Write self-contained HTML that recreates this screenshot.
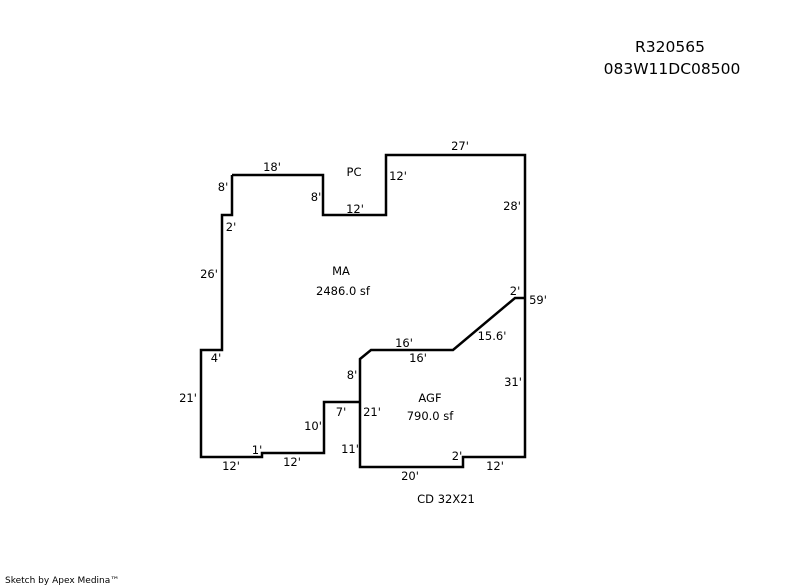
<!DOCTYPE html>
<html><head><style>
html,body{margin:0;padding:0;background:#fff;}
svg{display:block;}
text{font-family:"DejaVu Sans","Liberation Sans",sans-serif;font-size:11.5px;fill:#000;}
</style></head><body>
<svg width="800" height="587" viewBox="0 0 800 587" xmlns="http://www.w3.org/2000/svg">
<g fill="none" stroke="#000" stroke-width="2.5" stroke-linejoin="miter">
<polyline points="232,175 323,175 323,215 386,215 386,155 525,155 525,457 463,457 463,467 360,467 360,359 371,350 453,350 515,298 525,298"/>
<polyline points="232,175 232,215 222,215 222,350 201,350 201,457 262,457 262,453 324,453 324,402 360,402"/>
</g>
<text x="670" y="52" text-anchor="middle" style="font-size:15.5px">R320565</text>
<text x="672" y="74" text-anchor="middle" style="font-size:15.5px">083W11DC08500</text>
<text x="272" y="171" text-anchor="middle">18'</text>
<text x="354" y="176" text-anchor="middle">PC</text>
<text x="460" y="150" text-anchor="middle">27'</text>
<text x="223" y="191" text-anchor="middle">8'</text>
<text x="316" y="201" text-anchor="middle">8'</text>
<text x="398" y="180" text-anchor="middle">12'</text>
<text x="355" y="213" text-anchor="middle">12'</text>
<text x="512" y="210" text-anchor="middle">28'</text>
<text x="231" y="231" text-anchor="middle">2'</text>
<text x="209" y="278" text-anchor="middle">26'</text>
<text x="341" y="275" text-anchor="middle">MA</text>
<text x="343" y="295" text-anchor="middle">2486.0 sf</text>
<text x="515" y="295" text-anchor="middle">2'</text>
<text x="538" y="304" text-anchor="middle">59'</text>
<text x="492" y="340" text-anchor="middle">15.6'</text>
<text x="404" y="347" text-anchor="middle">16'</text>
<text x="418" y="362" text-anchor="middle">16'</text>
<text x="216" y="362" text-anchor="middle">4'</text>
<text x="352" y="379" text-anchor="middle">8'</text>
<text x="513" y="386" text-anchor="middle">31'</text>
<text x="188" y="402" text-anchor="middle">21'</text>
<text x="430" y="402" text-anchor="middle">AGF</text>
<text x="430" y="420" text-anchor="middle">790.0 sf</text>
<text x="341" y="416" text-anchor="middle">7'</text>
<text x="372" y="416" text-anchor="middle">21'</text>
<text x="313" y="430" text-anchor="middle">10'</text>
<text x="350" y="453" text-anchor="middle">11'</text>
<text x="257" y="454" text-anchor="middle">1'</text>
<text x="457" y="460" text-anchor="middle">2'</text>
<text x="231" y="470" text-anchor="middle">12'</text>
<text x="292" y="466" text-anchor="middle">12'</text>
<text x="410" y="480" text-anchor="middle">20'</text>
<text x="495" y="470" text-anchor="middle">12'</text>
<text x="446" y="503" text-anchor="middle">CD 32X21</text>
<text x="5" y="583" style="font-size:9px">Sketch by Apex Medina™</text>
</svg>
</body></html>
